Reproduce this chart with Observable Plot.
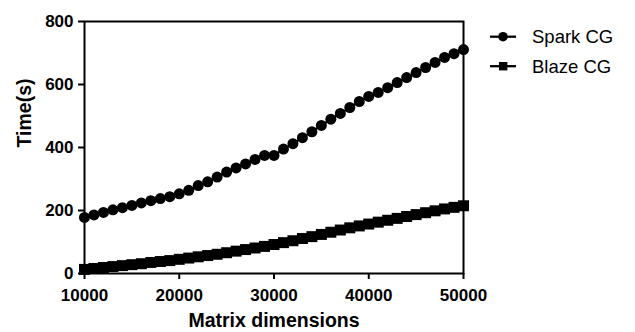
<!DOCTYPE html>
<html>
<head>
<meta charset="utf-8">
<script src="https://cdn.jsdelivr.net/npm/d3@7"></script>
<script src="https://cdn.jsdelivr.net/npm/@observablehq/plot@0.6"></script>
<style>
  html, body { margin: 0; padding: 0; background: #fff; }
  #chart { width: 635px; height: 332px; }
</style>
</head>
<body>
<div id="chart"></div>
<script>
const dims = [10000,11000,12000,13000,14000,15000,16000,17000,18000,19000,20000,
  21000,22000,23000,24000,25000,26000,27000,28000,29000,30000,
  31000,32000,33000,34000,35000,36000,37000,38000,39000,40000,
  41000,42000,43000,44000,45000,46000,47000,48000,49000,50000];
const sparkCG = [178,186,194,202,209,216,224,231,238,244,253,
  264,279,291,306,322,335,348,362,375,375,
  395,412,431,450,470,490,508,527,546,562,
  575,590,606,622,638,654,670,686,698,711];
const blazeCG = [13,16,19,22,25,28,31,35,38,41,45,
  49,53,57,61,66,71,76,81,86,92,
  98,104,111,117,124,131,138,145,151,157,
  163,169,175,181,187,193,199,205,210,215];
const seriesNames = ["Spark CG", "Blaze CG"];
const xTicks = [10000, 20000, 30000, 40000, 50000];
const yTicks = [0, 200, 400, 600, 800];
const xTitle = "Matrix dimensions";
const yTitle = "Time(s)";

const spark = dims.map((d, i) => ({x: d, y: sparkCG[i]}));
const blaze = dims.map((d, i) => ({x: d, y: blazeCG[i]}));

const font = "'Liberation Sans', Arial, Helvetica, sans-serif";

const svg = Plot.plot({
  width: 635,
  height: 332,
  marginLeft: 84,
  marginRight: 172,
  marginTop: 21,
  marginBottom: 59,
  style: {fontFamily: font, fontSize: "17px", fontWeight: "bold", color: "#000", background: "#fff", overflow: "visible"},
  x: {domain: [10000, 50000]},
  y: {domain: [0, 800]},
  marks: [
    Plot.axisX({ticks: xTicks, tickFormat: d3.format("d"), tickSize: 6, tickPadding: 9, strokeWidth: 2, label: null, fontSize: 17}),
    Plot.axisY({ticks: yTicks, tickFormat: d3.format("d"), tickSize: 6, tickPadding: 5, strokeWidth: 2, label: null, fontSize: 17}),
    Plot.frame({stroke: "#000", strokeWidth: 2}),
    Plot.text([xTitle], {frameAnchor: "bottom", dy: 40, lineAnchor: "top", fontSize: 19.5, fontWeight: "bold", fill: "#000"}),
    Plot.text([yTitle], {frameAnchor: "left", dx: -67, rotate: -90, lineAnchor: "top", fontSize: 19.5, fontWeight: "bold", fill: "#000"}),
    Plot.line(spark, {x: "x", y: "y", stroke: "#000", strokeWidth: 2}),
    Plot.line(blaze, {x: "x", y: "y", stroke: "#000", strokeWidth: 2}),
    Plot.dot(spark, {x: "x", y: "y", r: 5.5, fill: "#000", symbol: "circle"}),
    Plot.dot(blaze, {x: "x", y: "y", r: 6.2, fill: "#000", symbol: "square"})
  ]
});

// Legend in the right margin
const g = d3.select(svg).append("g")
  .attr("font-family", font).attr("font-size", 18.5).attr("font-weight", "normal")
  .attr("text-anchor", "start");
const legendSymbols = ["circle", "square"];
seriesNames.forEach((name, i) => {
  const cy = 36.7 + i * 29.5;
  g.append("line").attr("x1", 490).attr("x2", 516).attr("y1", cy).attr("y2", cy).attr("stroke", "#000").attr("stroke-width", 2.3);
  if (legendSymbols[i] === "circle") {
    g.append("circle").attr("cx", 503).attr("cy", cy).attr("r", 4.8).attr("fill", "#000");
  } else {
    g.append("rect").attr("x", 499).attr("y", cy - 4.2).attr("width", 8.4).attr("height", 8.4).attr("fill", "#000");
  }
  g.append("text").attr("x", 532).attr("y", cy).attr("dy", "0.35em").attr("text-anchor", "start").attr("fill", "#000").text(name);
});

document.getElementById("chart").appendChild(svg);
</script>
</body>
</html>
